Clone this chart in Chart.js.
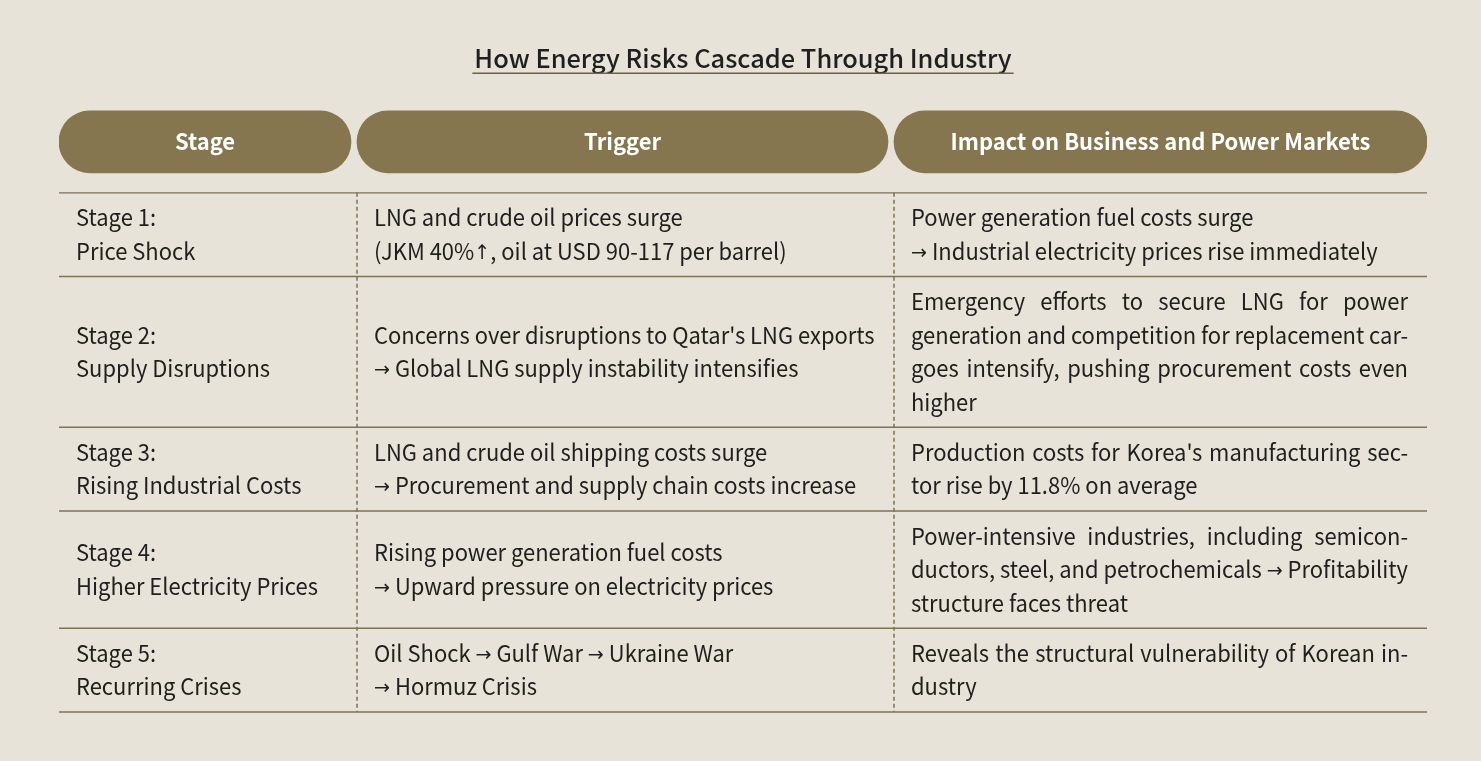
<!DOCTYPE html>
<html>
<head>
<meta charset="utf-8">
<script src="https://cdn.jsdelivr.net/npm/chart.js@4.4.1/dist/chart.umd.min.js"></script>
<style>
  html, body { margin: 0; padding: 0; background: #e7e3d8; }
  #wrap { width: 1481px; height: 761px; }
</style>
</head>
<body>
<div id="wrap"><canvas id="cascadeTable"></canvas></div>
<script>
// table content
const headers = ['Stage', 'Trigger', 'Impact on Business and Power Markets'];
const stageLines = [
    ['Stage 1:', 'Price Shock'],
    ['Stage 2:', 'Supply Disruptions'],
    ['Stage 3:', 'Rising Industrial Costs'],
    ['Stage 4:', 'Higher Electricity Prices'],
    ['Stage 5:', 'Recurring Crises']
];
const triggerLines = [
    ['LNG and crude oil prices surge', '(JKM 40%↑, oil at USD 90-117 per barrel)'],
    ["Concerns over disruptions to Qatar's LNG exports", '→ Global LNG supply instability intensifies'],
    ['LNG and crude oil shipping costs surge', '→ Procurement and supply chain costs increase'],
    ['Rising power generation fuel costs', '→ Upward pressure on electricity prices'],
    ['Oil Shock → Gulf War → Ukraine War', '→ Hormuz Crisis']
];
const impactLines = [
    ['Power generation fuel costs surge', '→ Industrial electricity prices rise immediately'],
    ['Emergency efforts to secure LNG for power', 'generation and competition for replacement car-', 'goes intensify, pushing procurement costs even', 'higher'],
    ["Production costs for Korea's manufacturing sec-", 'tor rise by 11.8% on average'],
    ['Power-intensive industries, including semicon-', 'ductors, steel, and petrochemicals → Profitability', 'structure faces threat'],
    ['Reveals the structural vulnerability of Korean in-', 'dustry']
];
const impactJustified = [false, true, true, true, true];

// layout (x in px of table width, y in text-line units)
const colWidths = [298, 537, 533];
const ROW_PAD = 0.5;
const HEADER_Y = -1.52;
const Y_MIN = -2.6;
const FONT = "'Noto Sans CJK KR', 'Noto Sans', sans-serif";
const ARROW_FONT = "'DejaVu Sans', sans-serif";
const SQUEEZE = 0.955;
const INK = '#1f1f1f';
const OLIVE = '#857650';
const RULE = '#7e7257';

const columns = [stageLines, triggerLines, impactLines];
const colStarts = colWidths.map((w, i) => colWidths.slice(0, i).reduce((a, b) => a + b, 0));
const tableWidth = colWidths.reduce((a, b) => a + b, 0);

const rowLineCounts = stageLines.map((_, r) => Math.max(...columns.map(col => col[r].length)));
const rowEdges = [0];
rowLineCounts.forEach(n => rowEdges.push(rowEdges[rowEdges.length - 1] + n + ROW_PAD));
const tableBottom = rowEdges[rowEdges.length - 1];

function pillRange(i) {
    const start = colStarts[i];
    const end = colStarts[i] + colWidths[i] - (i < colWidths.length - 1 ? 6 : 0);
    return [start, end];
}

// text squeezed horizontally a little, the source font is narrower
function squeezedText(ctx, t, x, y) {
    ctx.save();
    ctx.translate(x, y);
    ctx.scale(SQUEEZE, 1);
    ctx.fillText(t, 0, 0);
    ctx.restore();
}

// draw a line of text, arrows in a slimmer font, optionally justified
function drawRich(ctx, text, x, baseY, justifyTo) {
    const words = text.split(' ');
    const pieces = words.map(w => {
        const runs = [];
        for (const ch of w) {
            const arrow = (ch === '→' || ch === '↑');
            const last = runs[runs.length - 1];
            if (last && last.arrow === arrow) last.t += ch;
            else runs.push({ t: ch, arrow: arrow });
        }
        let width = 0;
        runs.forEach(run => {
            ctx.font = run.arrow ? '20px ' + ARROW_FONT : '23px ' + FONT;
            run.w = ctx.measureText(run.t).width * SQUEEZE;
            width += run.w;
        });
        return { runs, width };
    });
    ctx.font = '23px ' + FONT;
    let gap = ctx.measureText(' ').width * SQUEEZE;
    if (justifyTo && pieces.length > 1) {
        const used = pieces.reduce((a, p) => a + p.width, 0);
        gap = Math.max(3, (justifyTo - used) / (pieces.length - 1));
    }
    let cx = x;
    pieces.forEach(p => {
        p.runs.forEach(run => {
            ctx.font = run.arrow ? '20px ' + ARROW_FONT : '23px ' + FONT;
            squeezedText(ctx, run.t, cx, run.arrow ? baseY - 1 : baseY);
            cx += run.w;
        });
        cx += gap;
    });
}

const tableText = {
    id: 'tableText',
    afterDatasetsDraw(chart) {
        const { ctx, scales: { x, y } } = chart;
        ctx.save();

        // header labels
        ctx.fillStyle = '#ffffff';
        ctx.textAlign = 'center';
        ctx.textBaseline = 'alphabetic';
        ctx.font = 'bold 23px ' + FONT;
        headers.forEach((h, i) => {
            const [a, b] = pillRange(i);
            const cx = (x.getPixelForValue(a) + x.getPixelForValue(b)) / 2;
            squeezedText(ctx, h, cx, y.getPixelForValue(HEADER_Y) + 8.5);
        });

        // cell text
        ctx.fillStyle = INK;
        ctx.textAlign = 'left';
        columns.forEach((col, c) => {
            col.forEach((lines, r) => {
                const mid = (rowEdges[r] + rowEdges[r + 1]) / 2;
                const left = x.getPixelForValue(colStarts[c]) + 17;
                const right = x.getPixelForValue(colStarts[c] + colWidths[c]) - 19;
                const justify = c === 2 && impactJustified[r];
                lines.forEach((line, i) => {
                    const yy = y.getPixelForValue(mid + i - (lines.length - 1) / 2) + 8.5;
                    const isLast = i === lines.length - 1;
                    drawRich(ctx, line, left, yy, justify && !isLast ? right - left : 0);
                });
            });
        });
        ctx.restore();
    },
    afterDraw(chart) {
        // underline under the title
        const { ctx, chartArea } = chart;
        const t = chart.options.plugins.title;
        ctx.save();
        ctx.font = t.font.weight + ' ' + t.font.size + 'px ' + FONT;
        const w = ctx.measureText(t.text).width;
        const cx = (chartArea.left + chartArea.right) / 2;
        const yy = chart.titleBlock.top + t.padding.top + t.font.size * 1.2;
        ctx.strokeStyle = '#6e6143';
        ctx.lineWidth = 1.5;
        ctx.beginPath();
        ctx.moveTo(cx - w / 2 - 2, yy);
        ctx.lineTo(cx + w / 2 + 2, yy);
        ctx.stroke();
        ctx.restore();
    }
};

const datasets = [{
    type: 'bar',
    indexAxis: 'y',
    data: headers.map((h, i) => ({ y: HEADER_Y, x: pillRange(i) })),
    backgroundColor: OLIVE,
    borderRadius: 31,
    borderSkipped: false,
    barThickness: 62
}];

rowEdges.forEach(e => {
    datasets.push({
        type: 'line',
        data: [{ x: 0, y: e }, { x: tableWidth, y: e }],
        borderColor: RULE,
        borderWidth: 1.3,
        pointRadius: 0,
        clip: false
    });
});

colStarts.slice(1).forEach(s => {
    datasets.push({
        type: 'line',
        data: [{ x: s, y: 0 }, { x: s, y: tableBottom }],
        borderColor: RULE,
        borderWidth: 1.5,
        borderDash: [4, 3],
        pointRadius: 0,
        clip: false
    });
});

new Chart(document.getElementById('cascadeTable'), {
    type: 'bar',
    data: { datasets: datasets },
    options: {
        responsive: true,
        maintainAspectRatio: false,
        animation: false,
        layout: { padding: { left: 59, right: 54, top: 0, bottom: 49 } },
        plugins: {
            legend: { display: false },
            tooltip: { enabled: false },
            title: {
                display: true,
                text: 'How Energy Risks Cascade Through Industry',
                color: '#1f1f1f',
                font: { family: FONT, size: 25.4, weight: '500', lineHeight: 1.2 },
                padding: { top: 42.8, bottom: 32.4 }
            }
        },
        scales: {
            x: { type: 'linear', min: 0, max: tableWidth, offset: false, display: false },
            y: { type: 'linear', reverse: true, min: Y_MIN, max: tableBottom, offset: false, display: false }
        }
    },
    plugins: [tableText]
});
</script>
</body>
</html>
